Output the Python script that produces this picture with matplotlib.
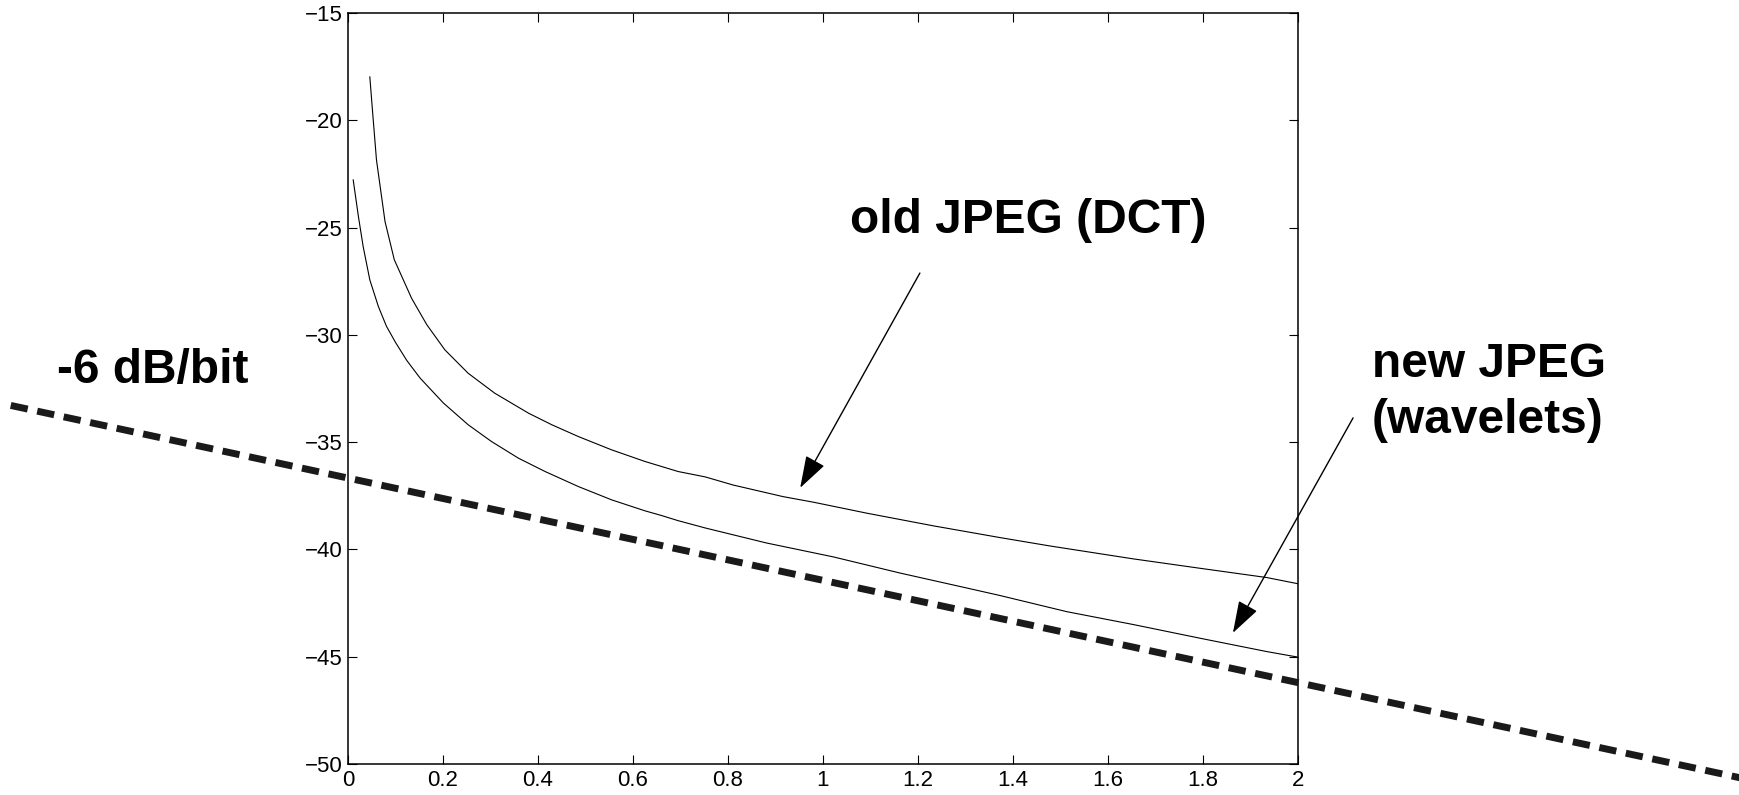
import numpy as np
import matplotlib
matplotlib.use("Agg")
import matplotlib.pyplot as plt

plt.rcParams['font.family'] = ['Liberation Sans', 'DejaVu Sans']
plt.rcParams['xtick.labelsize'] = 16
plt.rcParams['ytick.labelsize'] = 16

# old JPEG (DCT) curve
dct_x = [0.046, 0.052, 0.060, 0.078, 0.0975, 0.134, 0.166, 0.204, 0.253, 0.309,
         0.380, 0.429, 0.485, 0.555, 0.625, 0.695, 0.752, 0.811, 0.916, 0.980,
         1.092, 1.232, 1.373, 1.478, 1.653, 1.794, 1.934, 2.0]
dct_y = [-17.98, -19.66, -21.85, -24.72, -26.5, -28.3, -29.53, -30.70, -31.79, -32.72,
         -33.65, -34.19, -34.74, -35.36, -35.90, -36.37, -36.62, -37.0, -37.54, -37.8,
         -38.31, -38.9, -39.45, -39.84, -40.44, -40.88, -41.31, -41.6]

# new JPEG (wavelets) curve
wav_x = [0.011, 0.022, 0.032, 0.046, 0.064, 0.081, 0.100, 0.124, 0.152, 0.201,
         0.253, 0.302, 0.359, 0.415, 0.485, 0.555, 0.625, 0.660, 0.695, 0.752,
         0.881, 1.022, 1.162, 1.303, 1.373, 1.513, 1.653, 1.794, 1.934, 2.0]
wav_y = [-22.78, -24.49, -25.89, -27.44, -28.68, -29.6, -30.35, -31.2, -32.02, -33.18,
         -34.19, -34.97, -35.75, -36.37, -37.07, -37.69, -38.20, -38.42, -38.66, -39.0,
         -39.7, -40.35, -41.1, -41.8, -42.15, -42.9, -43.5, -44.14, -44.76, -45.02]

# -6 dB/bit reference line (runs past the axes on both sides)
ref_x = [-0.71, 2.93]
ref_y = [-33.29, -50.64]

xticks = [0, 0.2, 0.4, 0.6, 0.8, 1, 1.2, 1.4, 1.6, 1.8, 2]
xlabels = ['0', '0.2', '0.4', '0.6', '0.8', '1', '1.2', '1.4', '1.6', '1.8', '2']
yticks = [-50, -45, -40, -35, -30, -25, -20, -15]
ylabels = ['\u221250', '\u221245', '\u221240', '\u221235', '\u221230', '\u221225',
           '\u221220', '\u221215']

fig = plt.figure(figsize=(17.39, 7.95), dpi=100)
ax = fig.add_axes([0.2001, 0.039, 0.5463, 0.9447])

ax.plot(dct_x, dct_y, color='black', lw=0.8)
ax.plot(wav_x, wav_y, color='black', lw=0.8)
ax.plot(ref_x, ref_y, color='#1a1a1a', lw=5, dashes=(2.5, 1.4), clip_on=False, zorder=5)

ax.set_xlim(0, 2)
ax.set_ylim(-50, -15)
ax.set_xticks(xticks)
ax.set_xticklabels(xlabels, fontsize=16)
ax.set_yticks(yticks)
ax.set_yticklabels(ylabels, fontsize=16)
ax.tick_params(direction='in', length=6.5, width=0.8, pad=4, top=True, right=True)
for s in ax.spines.values():
    s.set_linewidth(1.1)

bold = dict(fontsize=34.5, fontweight='bold', va='baseline', ha='left')
ax.text(1.057, -25.25, 'old JPEG (DCT)', clip_on=False, **bold)
ax.text(-0.613, -32.24, '-6 dB/bit', clip_on=False, **bold)
ax.text(2.156, -31.96, 'new JPEG', clip_on=False, **bold)
ax.text(2.156, -34.57, '(wavelets)', clip_on=False, **bold)

arrow = dict(arrowstyle='-|>,head_length=1.0,head_width=0.33', mutation_scale=20,
             color='black', lw=1.0, shrinkA=0, shrinkB=0)
ax.annotate('', xy=(0.952, -37.13), xytext=(1.204, -27.12), arrowprops=arrow,
            annotation_clip=False)
ax.annotate('', xy=(1.863, -43.89), xytext=(2.116, -33.87), arrowprops=arrow,
            annotation_clip=False)

fig.savefig('out.png', dpi=100)
